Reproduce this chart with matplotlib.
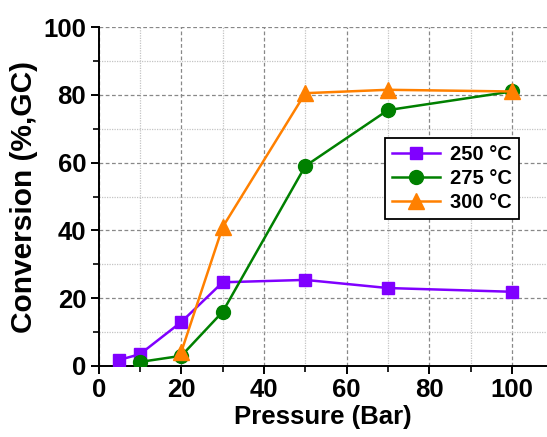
import matplotlib
matplotlib.use("Agg")
import matplotlib.pyplot as plt
from matplotlib.ticker import MultipleLocator

plt.rcParams['font.family'] = ['Liberation Sans', 'DejaVu Sans']
plt.rcParams['font.weight'] = 'bold'

# Conversion vs. pressure at three temperatures
p_250 = [5, 10, 20, 30, 50, 70, 100]
conv_250 = [1.8, 3.5, 13.0, 24.7, 25.4, 23.0, 21.9]

p_275 = [10, 20, 30, 50, 70, 100]
conv_275 = [1.2, 3.0, 16.0, 59.0, 75.5, 81.0]

p_300 = [20, 30, 50, 70, 100]
conv_300 = [4.2, 41.0, 80.5, 81.5, 81.0]

labels = ['250 °C', '275 °C', '300 °C']
colors = ['#8000FF', '#008000', '#FF8000']

fig = plt.figure(figsize=(5.47, 4.37), dpi=100)
ax = fig.add_axes([0.1805, 0.1625, 0.8195, 0.7755])

ax.plot(p_250, conv_250, '-s', color=colors[0], lw=1.8, ms=9, label=labels[0], zorder=3)
ax.plot(p_275, conv_275, '-o', color=colors[1], lw=1.8, ms=10, label=labels[1], zorder=3)
ax.plot(p_300, conv_300, '-^', color=colors[2], lw=1.8, ms=11, label=labels[2], zorder=3)

ax.set_xlim(0, 108.5)
ax.set_ylim(0, 100)
ax.xaxis.set_major_locator(MultipleLocator(20))
ax.xaxis.set_minor_locator(MultipleLocator(10))
ax.yaxis.set_major_locator(MultipleLocator(20))
ax.yaxis.set_minor_locator(MultipleLocator(10))

ax.grid(which='major', color='#888888', linestyle=(0, (3, 2)), linewidth=0.9, zorder=0)
ax.grid(which='minor', color='#c4c4c4', linestyle=(0, (1, 1)), linewidth=0.9, zorder=0)
ax.set_axisbelow(True)

for side in ['top', 'right']:
    ax.spines[side].set_visible(False)
for side in ['left', 'bottom']:
    ax.spines[side].set_linewidth(1.4)

ax.tick_params(which='major', direction='out', length=6, width=1.4, labelsize=18.5, pad=3)
ax.tick_params(which='minor', direction='out', length=4, width=1.2)
for lbl in ax.get_xticklabels() + ax.get_yticklabels():
    lbl.set_fontweight('bold')

ax.set_xlabel('Pressure (Bar)', fontsize=18.5, fontweight='bold', labelpad=2)
ax.set_ylabel('Conversion (%,GC)', fontsize=21.5, fontweight='bold', labelpad=4)

leg = ax.legend(loc='upper right', bbox_to_anchor=(0.9375, 0.672), borderaxespad=0,
                fancybox=False, edgecolor='black', framealpha=1,
                prop={'family': 'Liberation Sans', 'weight': 'bold', 'size': 14.5},
                handlelength=2.4, handletextpad=0.5, labelspacing=0.25,
                borderpad=0.35)
leg.get_frame().set_linewidth(1.3)

fig.savefig('out.png', dpi=100)
